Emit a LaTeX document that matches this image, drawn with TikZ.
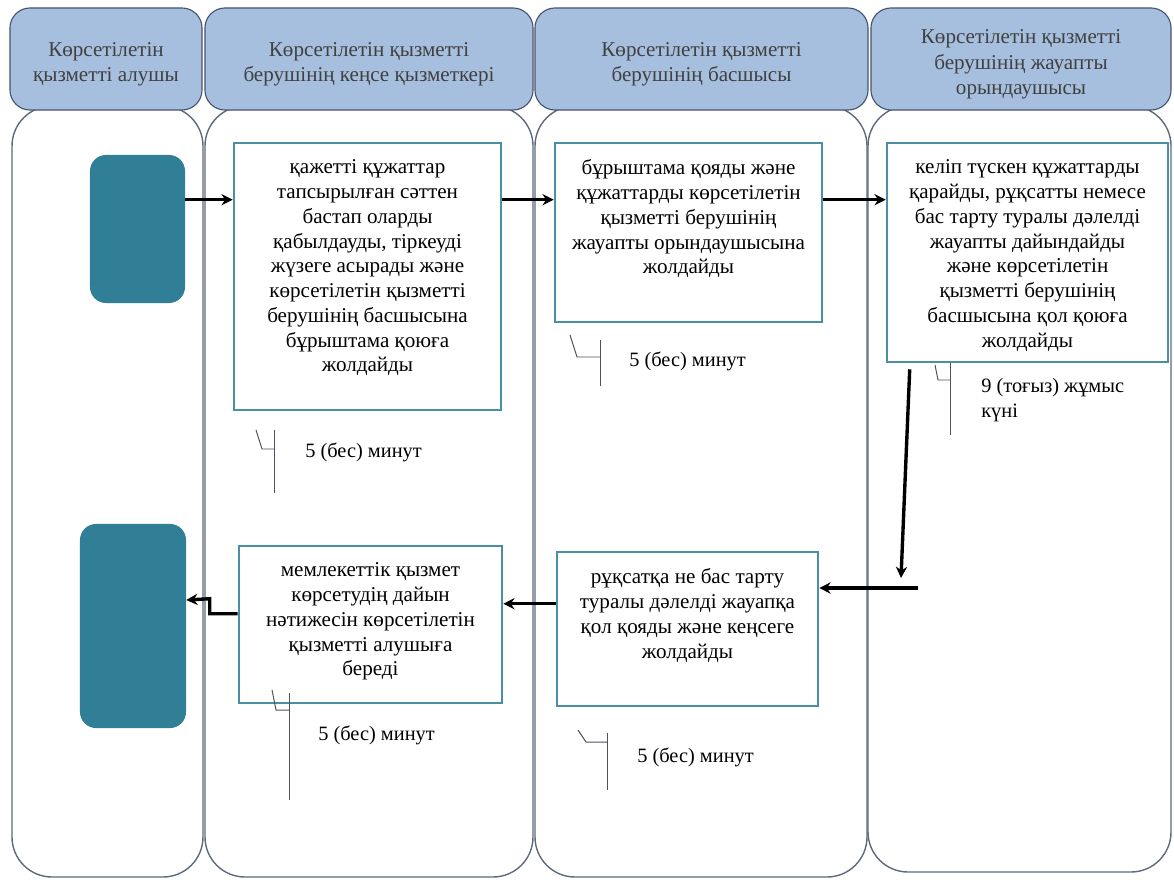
\documentclass[tikz,border=0pt]{standalone}
\usepackage{fontspec}
\setmainfont{Liberation Serif}
\usetikzlibrary{positioning, arrows.meta, calc}

\definecolor{headfill}{RGB}{167,191,222}
\definecolor{headline}{RGB}{70,85,110}
\definecolor{laneline}{RGB}{95,105,125}
\definecolor{tealfill}{RGB}{49,126,151}
\definecolor{boxline}{RGB}{75,143,165}
\definecolor{noteline}{RGB}{80,80,90}

\tikzset{
    lane/.style={draw=laneline, line width=1pt, rounded corners=1cm, fill=white},
    head/.style={draw=headline, line width=0.8pt, fill=headfill, rounded corners=0.5cm,
        align=center, text=black!75, font=\fontsize{15}{18}\selectfont, inner sep=0pt},
    endbox/.style={fill=tealfill, rounded corners=0.4cm, inner sep=0pt},
    procbox/.style={draw=boxline, line width=1.8pt, fill=white, inner sep=0pt},
    flow/.style={-{Stealth[length=8pt,width=8pt]}, line width=2.4pt},
    note/.style={draw=noteline, line width=0.7pt},
    timetxt/.style={anchor=west, align=left, inner sep=0pt, font=\fontsize{14.5}{17.8}\selectfont},
}
\newcommand{\hstrut}{\rule{0pt}{17.5pt}}
\newcommand{\boxtxt}[3]{\parbox[c][#2][t]{#1}{\centering\fontsize{15}{17.6}\selectfont\vspace*{12pt}#3}}

\begin{document}
\begin{tikzpicture}[x=0.025cm, y=-0.025cm]
    \useasboundingbox (0,0) rectangle (1174,879);
    % --- lanes ---
    \draw[lane] (12,106) rectangle (203,877);
    \draw[lane] (205,106) rectangle (533,877);
    \draw[lane] (535,106) rectangle (867,877);
    \draw[lane] (868,106) rectangle (1171,872);
    % --- headers ---
    \node[head, minimum width=4.8cm, minimum height=2.55cm] (h1) at (106,59)
        {\hstrut Көрсетілетін\\қызметті алушы};
    \node[head, minimum width=8.2cm, minimum height=2.55cm] (h2) at (369,59)
        {\hstrut Көрсетілетін қызметті\\берушінің кеңсе қызметкері};
    \node[head, minimum width=8.325cm, minimum height=2.55cm] (h3) at (701.5,59)
        {\hstrut Көрсетілетін қызметті\\берушінің басшысы};
    \node[head, minimum width=7.5cm, minimum height=2.55cm] (h4) at (1021,59)
        {\hstrut Көрсетілетін қызметті\\берушінің жауапты\\орындаушысы};
    % --- start and finish ---
    \node[endbox, minimum width=2.375cm, minimum height=3.7cm] (start) at (137.5,229) {};
    \node[endbox, minimum width=2.65cm, minimum height=5.1cm] (finish) at (133,626) {};
    % --- steps ---
    \node[procbox] (b1) at (367.5,276.5) {\boxtxt{6.675cm}{6.675cm}{қажетті құжаттар\\
        тапсырылған сәттен\\бастап оларды\\қабылдауды, тіркеуді\\жүзеге асырады және\\
        көрсетілетін қызметті\\берушінің басшысына\\бұрыштама қоюға\\жолдайды}};
    \node[procbox] (b2) at (688.5,232.5) {\boxtxt{6.675cm}{4.475cm}{бұрыштама қояды және\\
        құжаттарды көрсетілетін\\қызметті берушінің\\жауапты орындаушысына\\жолдайды}};
    \node[procbox] (b3) at (1027.5,252.5) {\boxtxt{7.025cm}{5.475cm}{келіп түскен құжаттарды\\
        қарайды, рұқсатты немесе\\бас тарту туралы дәлелді\\жауапты дайындайды\\
        және көрсетілетін\\қызметті берушінің\\басшысына қол қоюға\\жолдайды}};
    \node[procbox] (b4) at (687.5,629) {\boxtxt{6.525cm}{3.85cm}{рұқсатқа не бас тарту\\
        туралы дәлелді жауапқа\\қол қояды және кеңсеге\\жолдайды}};
    \node[procbox] (b5) at (370.5,624.5) {\boxtxt{6.575cm}{3.925cm}{мемлекеттік қызмет\\
        көрсетудің дайын\\нәтижесін көрсетілетін\\қызметті алушыға\\береді}};
    % --- flow ---
    \draw[flow] ([yshift=-1.45cm]b1.north west -| start.east) -- ([yshift=-1.45cm]b1.north west);
    \draw[flow] ([yshift=-1.45cm]b2.north west -| b1.east) -- ([yshift=-1.45cm]b2.north west);
    \draw[flow] ([yshift=-1.45cm]b3.north west -| b2.east) -- ([yshift=-1.45cm]b3.north west);
    \coordinate (down) at (901,578);
    \coordinate (back) at (918,588);
    \draw[flow] ([xshift=0.6cm,yshift=-0.15cm]b3.south west) -- (down);
    \draw[flow] (back) -- (back -| b4.east);
    \draw[flow] ([yshift=-1.325cm]b4.north west) -- ([yshift=-1.325cm]b4.north west -| b5.east);
    \draw[flow] ([yshift=-1.725cm]b5.north west) -- ++(-0.7cm,0) -- ++(0,0.375cm)
        -- ([yshift=0.65cm]finish.east);
    % --- time notes ---
    \draw[note] (256,430) -- (262,449) -- (274,449);
    \draw[note] (274,430) -- (274,493);
    \node[timetxt] (t1) at (305,452) {5 (бес) минут};
    \draw[note] (570,335) -- (577,357) -- (600,357);
    \draw[note] (600,340) -- (600,386);
    \node[timetxt] (t2) at (629,361) {5 (бес) минут};
    \draw[note] (935,365) -- (938,380) -- (950,380);
    \draw[note] (950,363) -- (950,435);
    \node[timetxt] (t3) at (981,400) {9 (тоғыз) жұмыс\\күні};
    \draw[note] (578,730) -- (586,742) -- (607,742);
    \draw[note] (607,733) -- (607,790);
    \node[timetxt] (t4) at (637,757) {5 (бес) минут};
    \draw[note] (272,690) -- (276,710) -- (289,710);
    \draw[note] (289,693) -- (289,800);
    \node[timetxt] (t5) at (318,735) {5 (бес) минут};
\end{tikzpicture}
\end{document}
